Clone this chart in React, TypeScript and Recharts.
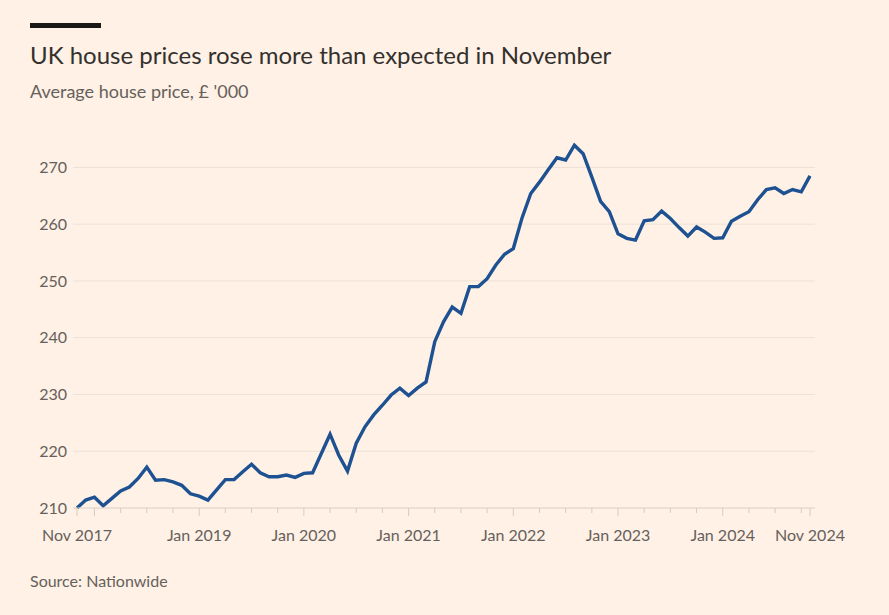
import { LineChart, Line, XAxis, YAxis, CartesianGrid } from "recharts";

// Nationwide average house price, £ '000, monthly Nov 2017 - Nov 2024
const prices = [
  210.0, 211.4, 211.9, 210.4, 211.7, 213.0, 213.7, 215.2, 217.2, 214.9, 215.0, 214.6,
  214.0, 212.5, 212.1, 211.4, 213.2, 215.0, 215.0, 216.4, 217.7, 216.2, 215.5, 215.5,
  215.8, 215.4, 216.1, 216.2, 219.6, 223.0, 219.3, 216.5, 221.4, 224.3, 226.4, 228.1,
  229.9, 231.1, 229.8, 231.1, 232.2, 239.3, 242.8, 245.4, 244.3, 249.0, 249.0, 250.4,
  252.8, 254.7, 255.7, 261.1, 265.4, 267.4, 269.6, 271.7, 271.3, 273.9, 272.4, 268.3,
  264.0, 262.2, 258.3, 257.5, 257.2, 260.6, 260.8, 262.3, 261.0, 259.4, 257.9, 259.5,
  258.6, 257.5, 257.6, 260.5, 261.4, 262.2, 264.3, 266.1, 266.4, 265.4, 266.1, 265.7,
  268.5,
];

const monthNames = ["Jan", "Feb", "Mar", "Apr", "May", "Jun", "Jul", "Aug", "Sep", "Oct", "Nov", "Dec"];
const months = prices.map((_, i) => {
  const m = 10 + i;
  return `${monthNames[m % 12]} ${2017 + Math.floor(m / 12)}`;
});

const labeledTicks = [
  "Nov 2017", "Jan 2019", "Jan 2020", "Jan 2021", "Jan 2022", "Jan 2023", "Jan 2024", "Nov 2024",
];
const yTicks = [210, 220, 230, 240, 250, 260, 270];

const data = prices.map((price, i) => ({ i, month: months[i], price }));

// quarterly tick marks plus the first and last month
const xTicks = data
  .filter((d, i) => i === 0 || i === data.length - 1 || ["Jan", "Apr", "Jul", "Oct"].includes(d.month.slice(0, 3)))
  .map((d) => d.i);

const grey = "#66605c";

const MonthTick = (props: any) => {
  const { x, y, payload } = props;
  const label = months[payload.value];
  const major = labeledTicks.includes(label) || label.startsWith("Jan");
  return (
    <g>
      <line x1={x} x2={x} y1={y} y2={y + (major ? 8 : 5)} stroke="#d6ccc2" />
      {labeledTicks.includes(label) && (
        <text x={x} y={y + 33} textAnchor="middle" fontSize={16} fill={grey} fontFamily="Lato">
          {label}
        </text>
      )}
    </g>
  );
};

export default function App() {
  return (
    <div
      style={{
        position: "absolute",
        left: 0,
        top: 0,
        width: 889,
        height: 615,
        background: "#fff1e5",
        fontFamily: "Lato",
      }}
    >
      <LineChart
        width={889}
        height={615}
        data={data}
        margin={{ top: 139, right: 74, bottom: 77, left: 0 }}
      >
        <CartesianGrid vertical={false} stroke="#ece1d7" horizontalValues={yTicks} />
        <XAxis
          dataKey="i"
          type="number"
          domain={[0, 84]}
          ticks={xTicks}
          interval={0}
          padding={{ left: 4, right: 5 }}
          height={30}
          tickLine={false}
          tickSize={0}
          tickMargin={0}
          axisLine={{ stroke: "#e2d7cc" }}
          tick={<MonthTick />}
        />
        <YAxis
          domain={[210, 275]}
          ticks={yTicks}
          width={73}
          axisLine={false}
          tickLine={false}
          tickSize={0}
          tickMargin={6}
          tick={{ fontSize: 16, fill: grey, fontFamily: "Lato" }}
        />
        <Line
          type="linear"
          dataKey="price"
          stroke="#1d5191"
          strokeWidth={3.4}
          dot={false}
          isAnimationActive={false}
        />
      </LineChart>
      <svg
        width={889}
        height={615}
        style={{ position: "absolute", left: 0, top: 0, pointerEvents: "none" }}
      >
        <rect x={30} y={23} width={71} height={5} fill="#1a1817" />
        <text x={30} y={64} fontSize={24} fill="#33302e" fontFamily="Lato">
          UK house prices rose more than expected in November
        </text>
        <text x={30} y={98} fontSize={18} fill={grey} fontFamily="Lato">
          Average house price, £ '000
        </text>
        <text x={30} y={587} fontSize={16} fill={grey} fontFamily="Lato">
          Source: Nationwide
        </text>
      </svg>
    </div>
  );
}
